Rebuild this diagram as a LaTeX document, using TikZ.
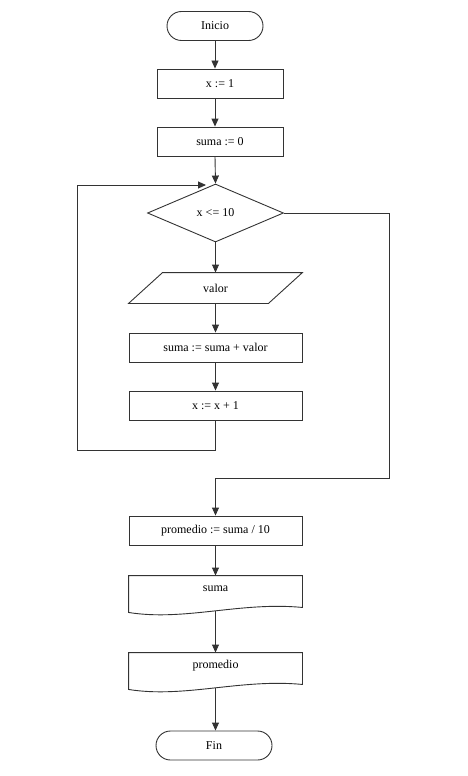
\documentclass[tikz,border=0pt]{standalone}
\usepackage{fontspec}
\setmainfont{Liberation Serif}
\usepackage{tikz}
\usetikzlibrary{arrows.meta}
\usetikzlibrary{shapes.geometric}

\begin{document}
\begin{tikzpicture}[x=1pt, y=-1pt, line width=0.9pt,
    every node/.style={font=\fontsize{12}{14}\selectfont, inner sep=0pt},
    term/.style={draw=black!80, rectangle, rounded corners=14.5pt, minimum height=29pt},
    proc/.style={draw=black!80, rectangle, minimum width=173pt, minimum height=29pt},
    iobox/.style={rectangle, minimum width=139pt, minimum height=30pt},
    docbox/.style={rectangle, minimum width=173pt, minimum height=26pt},
    flow/.style={draw=black!80, -{Triangle[length=8pt, width=7pt]}}]
    \useasboundingbox (0,0) rectangle (467,776);

    % Start and first assignments
    \node[term, minimum width=96pt] (inicio) at (215,26) {Inicio};
    \node[proc, minimum width=126pt] (xone) at (220,83.5) {x := 1};
    \node[proc, minimum width=126pt] (sumazero) at (220,141.5) {suma := 0};

    % Loop condition
    \node[diamond, draw=black!80, minimum width=136pt, minimum height=58pt] (cond) at (215.5,213) {x <= 10};

    % Loop body
    \node[iobox] (valor) at (215.5,288) {valor};
    \draw[black!80] ([xshift=-17pt]valor.south west) -- ([xshift=17pt]valor.north west)
        -- ([xshift=17pt]valor.north east) -- ([xshift=-17pt]valor.south east) -- cycle;
    \node[proc] (sumaadd) at (215.5,347.5) {suma := suma + valor};
    \node[proc] (xinc) at (215.5,405.5) {x := x + 1};

    % After the loop
    \node[proc] (prom) at (215.5,530.5) {promedio := suma / 10};
    \node[docbox] (sumaout) at (215.5,589) {suma};
    \node[docbox] (promout) at (215.5,666) {promedio};
    \foreach \d in {sumaout, promout} {
        \draw[black!80] (\d.north west) -- (\d.north east) -- ([yshift=-5pt]\d.south east)
            .. controls ([xshift=-62pt, yshift=1pt]\d.south east) and ([xshift=56pt, yshift=-19pt]\d.south west)
            .. ([yshift=-10pt]\d.south west) -- cycle;
    }
    \node[term, minimum width=116pt] (fin) at (214,745.5) {Fin};

    % Connectors
    \coordinate (loopleft) at (77,450);
    \coordinate (back) at (206,185);
    \coordinate (exitcorner) at (389,478);
    \draw[flow] (inicio.south) -- (inicio.south |- xone.north);
    \draw[flow] (inicio.south |- xone.south) -- (inicio.south |- sumazero.north);
    \draw[flow] (inicio.south |- sumazero.south) -- (cond.north);
    \draw[flow] (cond.south) -- (valor.north);
    \draw[flow] (valor.south) -- (sumaadd.north);
    \draw[flow] (sumaadd.south) -- (xinc.north);
    \draw[flow] (xinc.south) |- (loopleft) |- (back);
    \draw[flow] (cond.east) -| (exitcorner) -| (prom.north);
    \draw[flow] (prom.south) -- (sumaout.north);
    \draw[flow] ([yshift=-9pt]sumaout.south) -- (promout.north);
    \draw[flow] ([yshift=-9pt]promout.south) -- (promout.south |- fin.north);
\end{tikzpicture}
\end{document}
